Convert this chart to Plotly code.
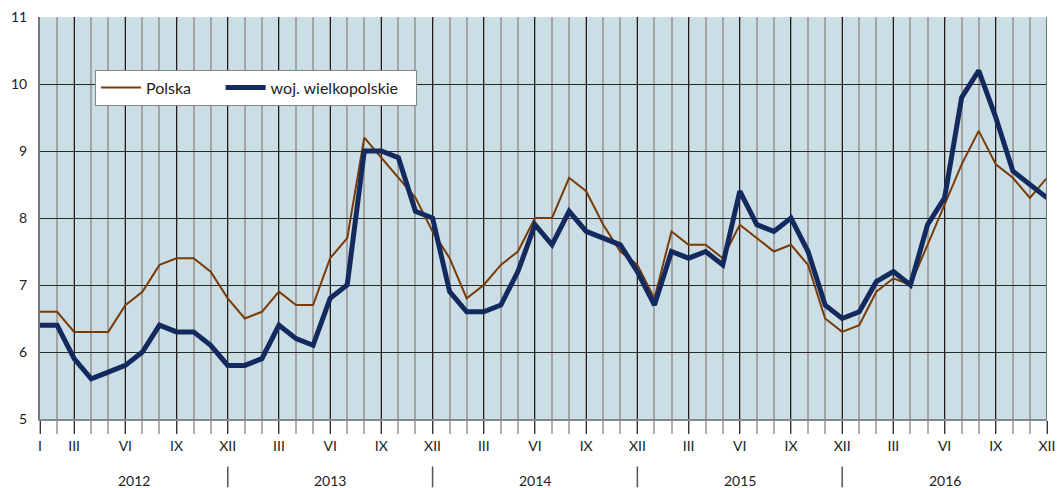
import plotly.graph_objects as go

roman = ["I", "II", "III", "IV", "V", "VI", "VII", "VIII", "IX", "X", "XI", "XII"]
years = ["2012", "2013", "2014", "2015", "2016"]

polska = [
    6.6, 6.6, 6.3, 6.3, 6.3, 6.7, 6.9, 7.3, 7.4, 7.4, 7.2, 6.8,
    6.5, 6.6, 6.9, 6.7, 6.7, 7.4, 7.7, 9.2, 8.9, 8.6, 8.3, 7.8,
    7.4, 6.8, 7.0, 7.3, 7.5, 8.0, 8.0, 8.6, 8.4, 7.9, 7.5, 7.3,
    6.8, 7.8, 7.6, 7.6, 7.4, 7.9, 7.7, 7.5, 7.6, 7.3, 6.5, 6.3,
    6.4, 6.9, 7.1, 7.0, 7.6, 8.2, 8.8, 9.3, 8.8, 8.6, 8.3, 8.6,
]
wielkopolskie = [
    6.4, 6.4, 5.9, 5.6, 5.7, 5.8, 6.0, 6.4, 6.3, 6.3, 6.1, 5.8,
    5.8, 5.9, 6.4, 6.2, 6.1, 6.8, 7.0, 9.0, 9.0, 8.9, 8.1, 8.0,
    6.9, 6.6, 6.6, 6.7, 7.2, 7.9, 7.6, 8.1, 7.8, 7.7, 7.6, 7.2,
    6.7, 7.5, 7.4, 7.5, 7.3, 8.4, 7.9, 7.8, 8.0, 7.5, 6.7, 6.5,
    6.6, 7.05, 7.2, 7.0, 7.9, 8.3, 9.8, 10.2, 9.5, 8.7, 8.5, 8.3,
]

n = len(polska)
x = list(range(n))

# tick labels: I, III, VI, IX, XII in first year, then III, VI, IX, XII
tickvals = [0] + [i for i in range(n) if i % 3 == 2]
ticktext = [roman[i % 12] for i in tickvals]

FONT = "Lato, 'Open Sans', sans-serif"
BROWN = "#7A3B06"
NAVY = "#132A5E"
NB = "\u00a0"

fig = go.Figure()
fig.add_trace(go.Scatter(x=x, y=polska, mode="lines", name="Polska" + NB * 6,
                         line=dict(color=BROWN, width=2)))
fig.add_trace(go.Scatter(x=x, y=wielkopolskie, mode="lines", name="woj. wielkopolskie" + NB * 3,
                         line=dict(color=NAVY, width=5)))

fig.update_xaxes(
    range=[0, n - 1],
    tickmode="array", tickvals=tickvals, ticktext=ticktext,
    ticks="outside", ticklen=13, tickcolor="#333333", tickwidth=1,
    showgrid=True, gridcolor="#1E1E1E", gridwidth=1,
    minor=dict(tick0=0, dtick=1, showgrid=True, gridcolor="#A3A3A3", gridwidth=2,
               ticks="outside", ticklen=13, tickcolor="#B0B0B0", tickwidth=2),
    showline=True, linecolor="#888888", linewidth=2,
    mirror=False, zeroline=False, automargin=False,
    tickfont=dict(family=FONT, size=14, color="#222222"),
)
fig.update_yaxes(
    range=[5, 11], dtick=1, tick0=5,
    showgrid=True, gridcolor="#2A2A2A", gridwidth=1,
    showline=True, linecolor="#777777", linewidth=2,
    ticks="", zeroline=False, automargin=False,
    tickfont=dict(family=FONT, size=14, color="#222222"),
    ticklabelstandoff=8,
)

shapes = []
# right edge frame line
shapes.append(dict(type="line", xref="x", yref="paper", x0=n - 1, x1=n - 1, y0=0, y1=1,
                   line=dict(color="#777777", width=2)))
# year separators
for k in range(1, len(years)):
    xi = 12 * k - 1
    shapes.append(dict(type="line", xref="x", yref="paper", x0=xi, x1=xi,
                       y0=-0.118, y1=-0.17, line=dict(color="#555555", width=1.5)))
annotations = []
for k, yr in enumerate(years):
    center = 5.5 if k == 0 else 12 * k + 5
    annotations.append(dict(x=center, y=-0.153, xref="x", yref="paper", text=yr,
                            showarrow=False, yanchor="middle",
                            font=dict(family=FONT, size=14, color="#222222")))

fig.update_layout(
    width=1057, height=488,
    margin=dict(l=40, r=10, t=17, b=69),
    paper_bgcolor="white",
    plot_bgcolor="#CBDDE5",
    showlegend=True,
    legend=dict(orientation="h", x=0.0546, y=0.869, xanchor="left", yanchor="top",
                bgcolor="white", bordercolor="#888888", borderwidth=1,
                font=dict(family=FONT, size=16, color="#222222"),
                itemwidth=40),
    shapes=shapes,
    annotations=annotations,
)

fig.write_html("out.html", config={"displayModeBar": False},
               post_script="document.body.style.margin='0';document.body.style.overflow='hidden';")
